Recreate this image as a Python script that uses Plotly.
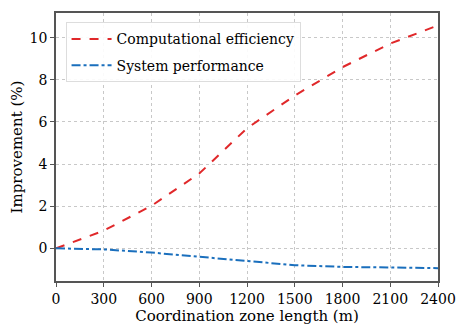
import plotly.graph_objects as go

zone_length = [0, 300, 600, 900, 1200, 1500, 1800, 2100, 2400]
comp_efficiency = [0, 0.84, 2.02, 3.55, 5.7, 7.25, 8.6, 9.72, 10.58]
sys_performance = [0, -0.05, -0.2, -0.4, -0.62, -0.8, -0.88, -0.92, -0.94]

fnt = "DejaVu Serif"

fig = go.Figure()
fig.add_trace(go.Scatter(x=zone_length, y=comp_efficiency, mode='lines',
                         name='Computational efficiency', legendgroup='a',
                         line=dict(color='#e0282a', width=2, dash='dash')))
fig.add_trace(go.Scatter(x=zone_length, y=sys_performance, mode='lines',
                         name='System performance', legendgroup='b',
                         line=dict(color='#1a6fbd', width=2, dash='dashdot')))

axis_common = dict(showline=True, linecolor='#555555', linewidth=1.5, mirror=True,
                   showgrid=True, gridcolor='#c8c8c8', griddash='dot', gridwidth=1,
                   ticks='outside', ticklen=4, tickcolor='#555555',
                   tickfont=dict(family=fnt, size=14, color='black'),
                   zeroline=False, automargin=False)

fig.update_xaxes(range=[0, 2400], tickvals=zone_length,
                 title=dict(text='Coordination zone length (m)', standoff=4,
                            font=dict(family=fnt, size=15, color='black')),
                 **axis_common)
fig.update_yaxes(range=[-1.55, 11.17], tickvals=[0, 2, 4, 6, 8, 10],
                 title=dict(text='Improvement (%)', standoff=8,
                            font=dict(family=fnt, size=15, color='black')),
                 **axis_common)

# the page body adds an 8px margin, so shift the plot area back by that much
fig.update_layout(
    width=476, height=331,
    margin=dict(l=48, r=46, t=5, b=58),
    plot_bgcolor='white', paper_bgcolor='white',
    font=dict(family=fnt),
    showlegend=True,
    legend=dict(x=0.025, y=0.965, xanchor='left', yanchor='top',
                bgcolor='rgba(255,255,255,0.9)', bordercolor='#dddddd', borderwidth=1,
                font=dict(family=fnt, size=14, color='black'), itemwidth=40,
                tracegroupgap=5),
)

fig.write_html("out.html")
